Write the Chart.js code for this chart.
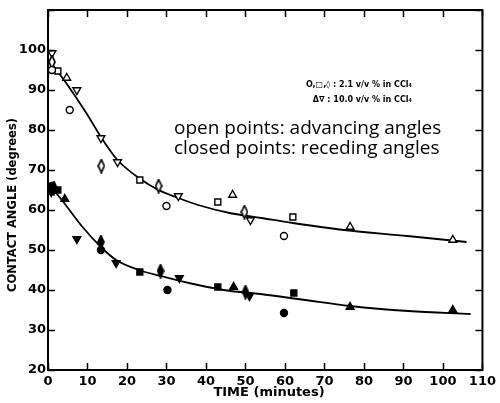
<!DOCTYPE html>
<html><head><meta charset="utf-8">
<script src="https://cdn.jsdelivr.net/npm/chart.js@4"></script>
<style>html,body{margin:0;padding:0;background:#fff}#wrap{width:500px;height:403px}</style>
</head><body><div id="wrap"><canvas id="c" width="500" height="403"></canvas></div>
<script>
// ---- data (time in minutes, contact angle in degrees) ----
// open points: advancing angles
const openCircleT   = [1, 5.5, 30, 59.75];
const openCircleY   = [95, 85, 61, 53.5];
const openSquareT   = [2.5, 23.25, 43, 62];
const openSquareY   = [94.75, 67.5, 62, 58.25];
const openDiamondT  = [1, 13.5, 28, 49.75];
const openDiamondY  = [97, 71, 66, 59.5];
const openUpT       = [4.75, 46.75, 76.5, 102.5];
const openUpY       = [93, 63.75, 55.75, 52.5];
const openDownT     = [1, 7.3, 13.4, 17.6, 33, 51.25];
const openDownY     = [99.25, 90, 78, 72, 63.5, 57.5];
// closed points: receding angles
const closedCircleT  = [1, 13.4, 30.25, 59.75];
const closedCircleY  = [66, 50, 40, 34.25];
const closedSquareT  = [2.5, 23.25, 43, 62.25];
const closedSquareY  = [65, 44.5, 40.75, 39.25];
const closedDiamondT = [1.5, 13.4, 28.5, 50];
const closedDiamondY = [65.5, 52, 44.75, 39.5];
const closedUpT      = [4.25, 47, 76.5, 102.5];
const closedUpY      = [62.75, 40.75, 35.75, 35];
const closedDownT    = [0.8, 7.3, 17.25, 33.25, 51];
const closedDownY    = [64.5, 52.75, 46.75, 43, 38.5];
// drawn curves
const upperCurveT = [1, 4.6, 9.7, 13.4, 17.6, 23, 28, 33, 38, 46, 54, 62, 75, 91, 106];
const upperCurveY = [96.5, 91.75, 84.25, 78.25, 72.5, 68, 65, 63, 61.25, 59.25, 58, 56.75, 55, 53.5, 52];
const lowerCurveT = [1, 3.5, 8.75, 13.4, 17.25, 23, 29.6, 38, 46.3, 53.8, 65, 76.5, 91.25, 107];
const lowerCurveY = [65.5, 62.5, 55.75, 50.75, 47.5, 45, 43.25, 41.25, 39.75, 39, 37.5, 36, 34.75, 34];
// axes
const xTickValues = [0,10,20,30,40,50,60,70,80,90,100,110];
const yTickValues = [20,30,40,50,60,70,80,90,100,110];
const yTickLabels = ['20','30','40','50','60','70','80','90','100',''];

function pts(ts, ys){ return ts.map((t,i)=>({x:t, y:ys[i]})); }

function diamondImg(filled){
  const c=document.createElement('canvas'); c.width=8; c.height=15;
  const g=c.getContext('2d');
  g.beginPath(); g.moveTo(4,1); g.lineTo(7,7.5); g.lineTo(4,14); g.lineTo(1,7.5); g.closePath();
  g.fillStyle=filled?'#000':'#fff'; g.fill();
  g.lineWidth=1.7; g.strokeStyle='#000'; g.stroke();
  return c;
}

function ptSet(ts, ys, style, filled, extra){
  return Object.assign({
    type:'scatter', data:pts(ts,ys), showLine:false,
    pointStyle:style, pointRadius:4, pointHoverRadius:4,
    pointBorderColor:'#000', pointBackgroundColor: filled?'#000':'#fff',
    pointBorderWidth:1.4
  }, extra||{});
}
function curve(ts, ys){
  return {type:'line', data:pts(ts,ys), showLine:true, borderColor:'#000', borderWidth:1.8,
    pointRadius:0, fill:false, cubicInterpolationMode:'monotone'};
}

const datasets = [
  ptSet(openCircleT, openCircleY, 'circle', false, {pointRadius:3.5}),
  ptSet(openSquareT, openSquareY, 'rect', false, {pointRadius:4.2}),
  ptSet(openDiamondT, openDiamondY, diamondImg(false), false),
  ptSet(openUpT, openUpY, 'triangle', false, {pointRadius:4.5}),
  ptSet(openDownT, openDownY, 'triangle', false, {pointRadius:4.5, pointRotation:180}),
  ptSet(closedCircleT, closedCircleY, 'circle', true, {pointRadius:3.5}),
  ptSet(closedSquareT, closedSquareY, 'rect', true, {pointRadius:4.2}),
  ptSet(closedDiamondT, closedDiamondY, diamondImg(true), true),
  ptSet(closedUpT, closedUpY, 'triangle', true, {pointRadius:4.5}),
  ptSet(closedDownT, closedDownY, 'triangle', true, {pointRadius:4.5, pointRotation:180}),
  curve(upperCurveT, upperCurveY),
  curve(lowerCurveT, lowerCurveY)
];

const framePlugin = {
  id:'frame',
  afterDraw(chart){
    const ctx=chart.ctx, a=chart.chartArea, xs=chart.scales.x, ys=chart.scales.y;
    ctx.save();
    ctx.strokeStyle='#000'; ctx.lineWidth=2;
    ctx.strokeRect(a.left, a.top, a.right-a.left, a.bottom-a.top);
    ctx.lineWidth=1.5;
    const L=7;
    ctx.beginPath();
    xTickValues.forEach(v=>{
      const p=Math.round(xs.getPixelForValue(v))+0.5;
      ctx.moveTo(p,a.bottom); ctx.lineTo(p,a.bottom-L);
      ctx.moveTo(p,a.top); ctx.lineTo(p,a.top+L);
    });
    yTickValues.forEach(v=>{
      const p=Math.round(ys.getPixelForValue(v))+0.5;
      ctx.moveTo(a.left,p); ctx.lineTo(a.left+L,p);
      ctx.moveTo(a.right,p); ctx.lineTo(a.right-L,p);
    });
    ctx.stroke();
    // axis titles
    ctx.fillStyle='#000';
    ctx.font='bold 13px "DejaVu Sans"';
    ctx.textAlign='center'; ctx.textBaseline='middle';
    ctx.fillText('TIME (minutes)', 269, 393);
    ctx.save();
    ctx.translate(13, 205); ctx.rotate(-Math.PI/2);
    ctx.font='bold 11.5px "DejaVu Sans"';
    ctx.fillText('CONTACT ANGLE (degrees)', 0, 0);
    ctx.restore();
    // annotations
    ctx.textAlign='right'; ctx.textBaseline='alphabetic';
    ctx.font='bold 8px "DejaVu Sans"';
    ctx.fillText('O,\u25A1,\u25CA : 2.1 v/v % in CCl\u2084', 412, 87);
    ctx.fillText('\u0394\u2207 : 10.0 v/v % in CCl\u2084', 412, 102);
    ctx.textAlign='left';
    ctx.font='19px "Open Sans"';
    ctx.fillText('open points: advancing angles', 174, 134);
    ctx.fillText('closed points: receding angles', 174, 154);
    ctx.restore();
  }
};

new Chart(document.getElementById('c'), {
  type:'scatter',
  data:{datasets},
  options:{
    responsive:false, animation:false,
    layout:{padding:{top:10, right:12, left:0, bottom:0}},
    plugins:{legend:{display:false}, tooltip:{enabled:false}},
    scales:{
      x:{type:'linear', min:0, max:110,
        afterBuildTicks(s){ s.ticks = xTickValues.map(v=>({value:v})); },
        afterFit(s){ s.height=33; },
        grid:{display:false, drawTicks:false}, border:{display:false},
        ticks:{padding:4, color:'#000', font:{family:'DejaVu Sans', size:13, weight:'bold'}, maxRotation:0, autoSkip:false}
      },
      y:{type:'linear', min:20, max:110,
        afterBuildTicks(s){ s.ticks = yTickValues.map(v=>({value:v})); },
        afterFit(s){ s.width=48; },
        grid:{display:false, drawTicks:false}, border:{display:false},
        ticks:{padding:2, color:'#000', font:{family:'DejaVu Sans', size:13, weight:'bold'}, autoSkip:false,
          callback:(v)=>yTickLabels[yTickValues.indexOf(v)] }
      }
    }
  },
  plugins:[framePlugin]
});
</script></body></html>
